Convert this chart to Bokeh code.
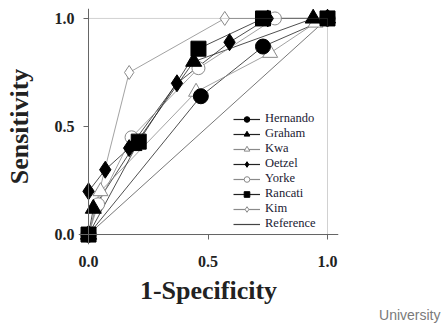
from bokeh.plotting import figure
from bokeh.models import (Range1d, LinearAxis, FixedTicker, BoxAnnotation, Legend, LegendItem,
                          ColumnDataSource, Title, PrintfTickFormatter)
from bokeh.embed import file_html
from bokeh.resources import INLINE

# ---- data ----
hernando_x = [0.0, 0.47, 0.73, 1.0]
hernando_y = [0.0, 0.64, 0.87, 1.0]
graham_x = [0.0, 0.02, 0.19, 0.44, 0.94, 1.0]
graham_y = [0.0, 0.12, 0.41, 0.80, 1.0, 1.0]
kwa_x = [0.0, 0.05, 0.45, 0.76, 0.95, 1.0]
kwa_y = [0.0, 0.20, 0.66, 0.84, 0.98, 1.0]
oetzel_x = [0.0, 0.0, 0.07, 0.17, 0.37, 0.59, 0.75, 1.0]
oetzel_y = [0.0, 0.20, 0.30, 0.40, 0.70, 0.89, 1.0, 1.0]
yorke_x = [0.0, 0.04, 0.18, 0.46, 0.78, 1.0]
yorke_y = [0.0, 0.14, 0.45, 0.77, 1.0, 1.0]
rancati_x = [0.0, 0.21, 0.46, 0.73, 1.0]
rancati_y = [0.0, 0.43, 0.86, 1.0, 1.0]
kim_x = [0.0, 0.17, 0.57, 1.0]
kim_y = [0.0, 0.75, 1.0, 1.0]
ref_x = [0.0, 1.0]
ref_y = [0.0, 1.0]
tick_vals = [0.0, 0.5, 1.0]

SERIF = "Liberation Serif"
DARK = "#222222"
GRAY = "#8a8a8a"
AXC = "#666666"

p = figure(frame_width=260, frame_height=236, output_backend="svg", toolbar_location=None,
           x_range=Range1d(-0.042, 1.046), y_range=Range1d(-0.046, 1.046),
           x_axis_type=None, y_axis_type=None,
           min_border_left=78, min_border_right=105, min_border_top=8, min_border_bottom=82)
p.outline_line_color = None
p.xgrid.visible = False
p.ygrid.visible = False

box = BoxAnnotation(left=0, right=1, bottom=0, top=1, fill_alpha=0,
                    line_color=AXC, line_width=1)
p.add_layout(box)

def base_axis(ax):
    ax.ticker = FixedTicker(ticks=tick_vals)
    ax.formatter = PrintfTickFormatter(format="%.1f")
    ax.minor_tick_line_color = None
    ax.major_label_text_font = SERIF
    ax.major_label_text_font_style = "bold"
    ax.major_label_text_font_size = "16px"
    ax.major_label_text_color = DARK
    ax.axis_label_text_font = SERIF
    ax.axis_label_text_font_style = "bold"
    ax.axis_label_text_font_size = "26px"
    ax.axis_label_text_color = DARK

# tick marks sitting on the data box (fixed at 0)
for side in ("below", "left"):
    t = LinearAxis()
    base_axis(t)
    t.fixed_location = 0
    t.axis_line_color = AXC
    t.major_tick_line_color = AXC
    t.major_tick_in = 0
    t.major_tick_out = 5
    t.major_label_text_alpha = 0
    p.add_layout(t, side)

# labels in the side panels
xa = LinearAxis(axis_label="1-Specificity")
base_axis(xa)
xa.axis_line_color = None
xa.major_tick_line_color = None
xa.major_tick_in = 0
xa.major_tick_out = 0
xa.major_label_standoff = 11
xa.axis_label_standoff = 6
p.add_layout(xa, "below")

ya = LinearAxis(axis_label="Sensitivity")
base_axis(ya)
ya.axis_line_color = None
ya.major_tick_line_color = None
ya.major_tick_in = 0
ya.major_tick_out = 0
ya.major_label_standoff = 4
ya.axis_label_standoff = 18
p.add_layout(ya, "left")

series = [
    ("Hernando", hernando_x, hernando_y, "circle", 15, "black", "black", DARK, 10),
    ("Graham", graham_x, graham_y, "triangle", 16, "black", "black", DARK, 11),
    ("Kwa", kwa_x, kwa_y, "triangle", 15, "white", GRAY, GRAY, 11),
    ("Oetzel", oetzel_x, oetzel_y, "diamond", 17, "black", "black", DARK, 12),
    ("Yorke", yorke_x, yorke_y, "circle", 13, "white", GRAY, GRAY, 10),
    ("Rancati", rancati_x, rancati_y, "square", 15, "black", "black", DARK, 10),
    ("Kim", kim_x, kim_y, "diamond", 14, "white", GRAY, GRAY, 11),
]
draw_order = ["Kim", "Yorke", "Kwa", "Hernando", "Oetzel", "Graham", "Rancati"]

p.line(ref_x, ref_y, line_color="#555555", line_width=0.8)
for name, xs, ys, mk, sz, fc, lc, linec, lsz in series:
    p.line(xs, ys, line_color=linec, line_width=0.8)
lookup = {s[0]: s for s in series}
for nm in draw_order:
    name, xs, ys, mk, sz, fc, lc, linec, lsz = lookup[nm]
    p.scatter(xs, ys, marker=mk, size=sz, fill_color=fc, line_color=lc, line_width=1)

# legend-only renderers (kept off-screen)
hide = dict(x=[-5.0, -4.0], y=[-5.0, -4.0])
items = []
for name, xs, ys, mk, sz, fc, lc, linec, lsz in series:
    src = ColumnDataSource(data=dict(hide))
    r1 = p.line("x", "y", source=src, line_color=linec, line_width=1.2)
    r2 = p.scatter("x", "y", source=src, marker=mk, size=lsz, fill_color=fc, line_color=lc, line_width=1)
    items.append(LegendItem(label=name, renderers=[r1, r2], index=0))
src = ColumnDataSource(data=dict(hide))
r = p.line("x", "y", source=src, line_color="#444444", line_width=1.2)
items.append(LegendItem(label="Reference", renderers=[r], index=0))

leg = Legend(items=items, location=(155, 13), padding=0, margin=0, spacing=0,
             glyph_width=27, glyph_height=14, label_height=14, label_standoff=5,
             label_text_font=SERIF, label_text_font_size="12.5px", label_text_color="#1a1a33",
             border_line_color=None, background_fill_alpha=0)
p.add_layout(leg, "center")

wm = Title(text="University", align="right", offset=-102, text_font="Liberation Sans",
           text_font_size="14px", text_font_style="normal", text_color="#7a7a7a", standoff=-5)
p.add_layout(wm, "below")

open("out.html", "w").write(file_html(p, INLINE))
